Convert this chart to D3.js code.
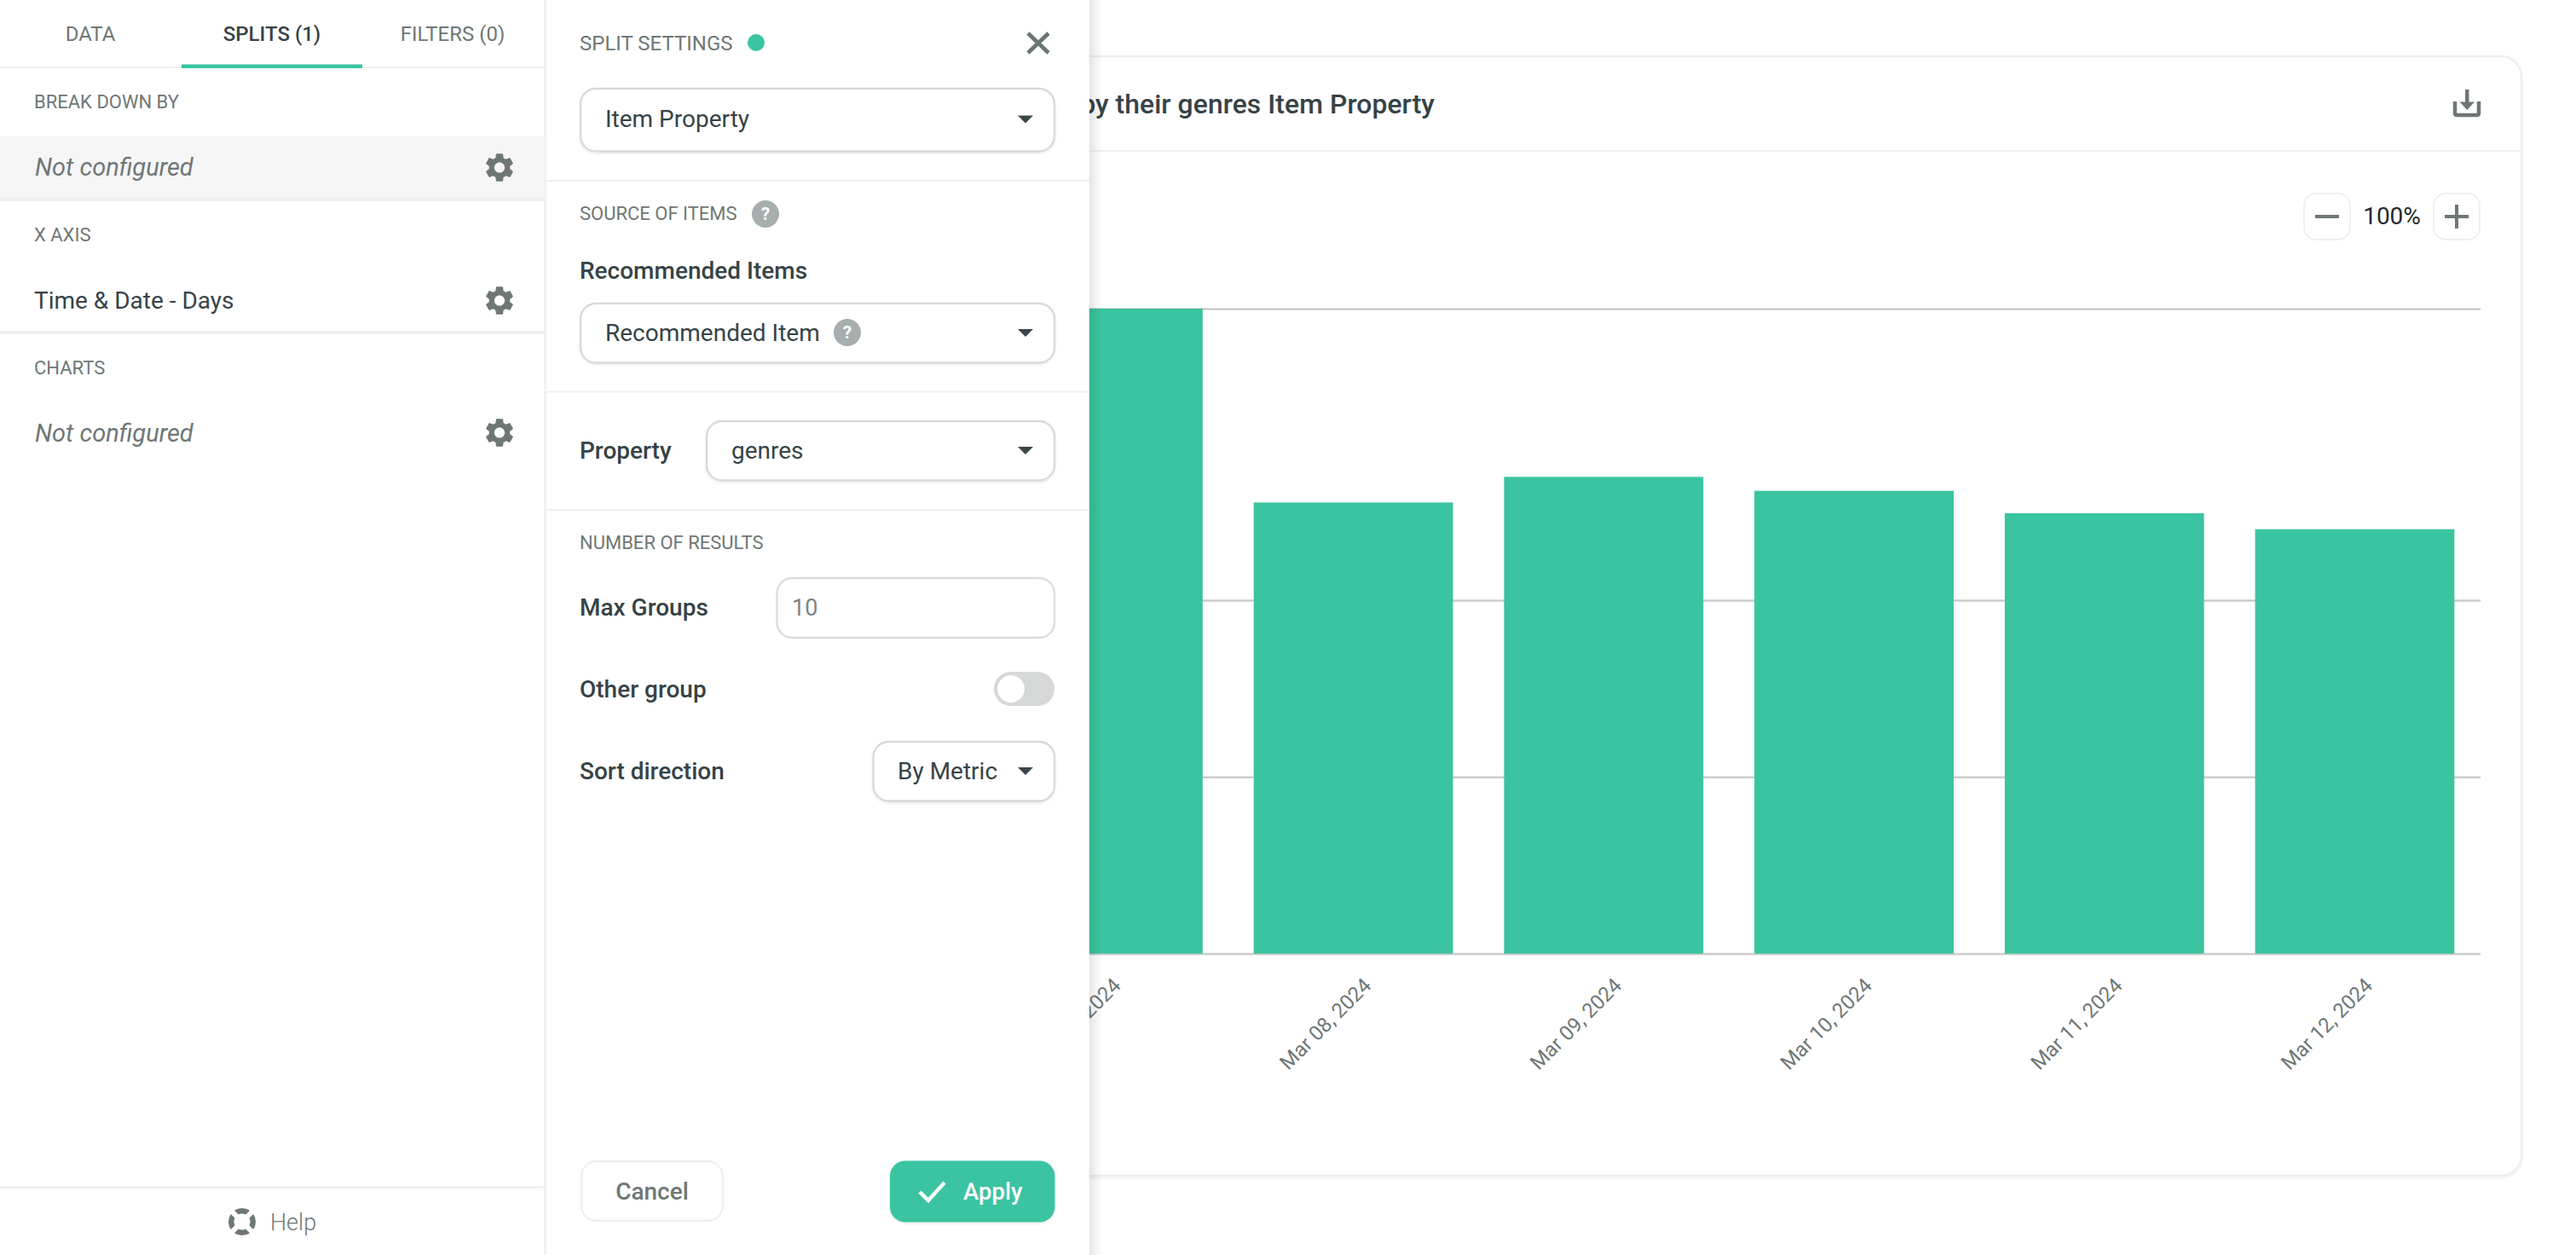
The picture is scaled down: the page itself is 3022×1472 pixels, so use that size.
<!DOCTYPE html>
<html><head><meta charset="utf-8">
<style>html,body{margin:0;padding:0;background:#fff;overflow:hidden}svg{display:block}text{font-family:Roboto,sans-serif}</style>
<script src="https://cdn.jsdelivr.net/npm/d3@7/dist/d3.min.js"></script>
</head><body><svg id="c" width="3022" height="1472"></svg>
<script>
const categories=["Mar 07, 2024","Mar 08, 2024","Mar 09, 2024","Mar 10, 2024","Mar 11, 2024","Mar 12, 2024"];
const seriesValues=[3650,2553,2698,2619,2492,2402];
const yTicks=[0,1000,2000,3650];
const tabLabels=["DATA","SPLITS (1)","FILTERS (0)"];

const TEAL="#3bc4a1",DARK="#364346",GREY="#6f7776",LINE="#f0f0f0";
const svg=d3.select("#c");
const defs=svg.append("defs");
const sh=defs.append("linearGradient").attr("id","panelShadow");
sh.append("stop").attr("offset","0").attr("stop-color","#000").attr("stop-opacity",.10);
sh.append("stop").attr("offset","1").attr("stop-color","#000").attr("stop-opacity",0);
const bs=defs.append("filter").attr("id","soft").attr("x","-20%").attr("y","-20%").attr("width","140%").attr("height","140%");
bs.append("feDropShadow").attr("dx",0).attr("dy",1.5).attr("stdDeviation",1.5).attr("flood-color","#000").attr("flood-opacity",.08);

function T(g,x,cy,s,o={}){const size=o.size||28;
  return g.append("text").attr("x",x).attr("y",cy+size*.355).text(s)
   .attr("font-size",size).attr("font-weight",o.weight||400).attr("fill",o.fill||DARK)
   .attr("text-anchor",o.anchor||"start").attr("font-style",o.style||"normal");}
function R(g,x,y,w,h,o={}){return g.append("rect").attr("x",x).attr("y",y).attr("width",w).attr("height",h)
   .attr("rx",o.r||0).attr("fill",o.fill||"#fff").attr("stroke",o.stroke||"none").attr("stroke-width",o.sw||0).attr("filter",o.filter||null);}

/* ---------- chart card ---------- */
const card=svg.append("g");
R(card,900,66,2058,1313,{r:24,stroke:"#efefef",sw:2.5,filter:"url(#soft)"});
card.append("line").attr("x1",900).attr("x2",2958).attr("y1",177).attr("y2",177).attr("stroke",LINE).attr("stroke-width",2);
T(card,1683,121.5,"by their genres Item Property",{size:32,weight:500,anchor:"end",fill:"#364346"});

const x=d3.scaleBand().domain(categories).range([1146.4,2910]).paddingInner(.204).paddingOuter(.1045);
const y=d3.scaleLinear().domain([0,3650]).range([1118.5,362]);
const grid=d3.axisLeft(y).tickValues(yTicks).tickSize(-(2910-1146)).tickFormat("");
const gg=card.append("g").attr("transform","translate(1146,0)").call(grid);
gg.select(".domain").remove();
gg.selectAll(".tick line").attr("stroke","#cccccc").attr("stroke-width",2.4);

card.append("g").selectAll("rect").data(categories).join("rect")
  .attr("x",d=>x(d)).attr("width",x.bandwidth())
  .attr("y",(d,i)=>y(seriesValues[i])).attr("height",(d,i)=>y(0)-y(seriesValues[i]))
  .attr("fill",TEAL);

const ax=d3.axisBottom(x).tickSize(0);
const ag=card.append("g").attr("transform","translate(0,1118)").call(ax);
ag.select(".domain").remove();
ag.selectAll("text").attr("font-size",24).attr("fill",GREY)
  .attr("text-anchor","end").attr("transform","translate(17,34) rotate(-45)").attr("dy",".32em").attr("y",0);

/* zoom controls + download */
R(card,2703,227,54,54,{r:14,stroke:LINE,sw:2});
R(card,2855,227,54,54,{r:14,stroke:LINE,sw:2});
R(card,2716,252,28,4,{fill:"#6f7776"});
R(card,2868,252,28,4,{fill:"#6f7776"});
R(card,2880,240,4,28,{fill:"#6f7776"});
T(card,2806,253.5,"100%",{size:28,anchor:"middle",fill:"#25292b"});
card.append("path").attr("d","M2880 119v13.5q0 2.5 2.5 2.5h23q2.5 0 2.5-2.5V119").attr("fill","none").attr("stroke","#6f7776").attr("stroke-width",4.5);
card.append("path").attr("d","M2892 105h4.5v14.5h6.5l-8.7 9.5-8.8-9.5h6.5z").attr("fill","#6f7776");

/* ---------- settings panel (right) ---------- */
const p2=svg.append("g");
R(p2,1278,0,15,1472,{fill:"url(#panelShadow)"});
R(p2,640,0,638,1472);
const hr=(g,x1,x2,yy,c,w)=>g.append("line").attr("x1",x1).attr("x2",x2).attr("y1",yy).attr("y2",yy).attr("stroke",c||LINE).attr("stroke-width",w||2.2);
const caret=(g,cx,cy)=>g.append("path").attr("d",`M${cx-9} ${cy-4}h18l-9 9z`).attr("fill","#3a4548");
const help=(g,cx,cy)=>{g.append("circle").attr("cx",cx).attr("cy",cy).attr("r",16).attr("fill","#a6aeae");
   T(g,cx,cy,"?",{size:21,weight:700,fill:"#fff",anchor:"middle"});};
function sel(g,x1,x2,y1,y2,s,tx,cy){R(g,x1,y1,x2-x1,y2-y1,{r:18,stroke:"#d9d9d9",sw:2.4,filter:"url(#soft)"});
   T(g,tx,cy,s);caret(g,1203,cy);}
const head={size:22,fill:GREY,weight:400};
T(p2,680,50,"SPLIT SETTINGS",{size:24,fill:GREY,weight:400});
p2.append("circle").attr("cx",887).attr("cy",50).attr("r",10).attr("fill",TEAL);
p2.append("path").attr("d","M1206 39l24 23M1230 39l-24 23").attr("stroke","#6b7373").attr("stroke-width",4.6).attr("fill","none");
sel(p2,681,1237,104,177.5,"Item Property",710,139.5);
hr(p2,640,1278,212);
T(p2,680,250,"SOURCE OF ITEMS",head);
help(p2,898,251);
T(p2,680,317,"Recommended Items",{weight:500});
sel(p2,681,1237,356,425.5,"Recommended Item",710,390);
help(p2,994,390);
hr(p2,640,1278,459.5);
T(p2,680,528,"Property",{weight:500});
sel(p2,829,1237,494,563.5,"genres",858,528);
hr(p2,640,1278,598);
T(p2,680,636,"NUMBER OF RESULTS",head);
T(p2,680,712,"Max Groups",{weight:500});
R(p2,911.5,678,325.5,70,{r:18,stroke:"#dcdcdc",sw:2.4});
T(p2,929,712,"10",{size:27,fill:"#7d8584"});
T(p2,680,808.5,"Other group",{weight:500});
R(p2,1166,788,71,40,{r:20,fill:"#d6d8d7"});
p2.append("circle").attr("cx",1186).attr("cy",808).attr("r",16).attr("fill","#fff");
T(p2,680,904,"Sort direction",{weight:500});
sel(p2,1024.5,1237,870,939.5,"By Metric",1053,904);
R(p2,682,1362,166,70,{r:18,stroke:LINE,sw:2.4});
T(p2,765,1397,"Cancel",{weight:500,fill:GREY,anchor:"middle"});
R(p2,1044,1361.5,193.5,72,{r:18,fill:TEAL,filter:"url(#soft)"});
p2.append("path").attr("d","M1079 1398l10 10 19-21").attr("stroke","#fff").attr("stroke-width",4.4).attr("fill","none");
T(p2,1130,1397.5,"Apply",{size:27.5,weight:500,fill:"#fff"});

/* ---------- left nav panel ---------- */
const p1=svg.append("g");
R(p1,0,0,640,1472);
hr(p1,0,639,79);
p1.append("line").attr("x1",639.5).attr("x2",639.5).attr("y1",0).attr("y2",1472).attr("stroke",LINE).attr("stroke-width",2.4);
p1.selectAll("text.tab").data(tabLabels).join("text").attr("class","tab")
  .attr("x",(d,i)=>[106,319,531][i]).attr("y",39+24*.355).attr("text-anchor","middle").attr("font-size",24)
  .attr("font-weight",(d,i)=>i==1?500:400).attr("fill",(d,i)=>i==1?DARK:GREY).text(d=>d);
R(p1,213,75.5,212,4.5,{fill:TEAL});
const gearD="M19.14 12.94c.04-.3.06-.61.06-.94 0-.32-.02-.64-.07-.94l2.03-1.58c.18-.14.23-.41.12-.61l-1.92-3.32c-.12-.22-.37-.29-.59-.22l-2.39.96c-.5-.38-1.03-.7-1.62-.94l-.36-2.54c-.04-.24-.24-.41-.48-.41h-3.84c-.24 0-.43.17-.47.41l-.36 2.54c-.59.24-1.13.57-1.62.94l-2.39-.96c-.22-.08-.47 0-.59.22L2.74 8.87c-.12.21-.08.47.12.61l2.03 1.58c-.05.3-.09.63-.09.94s.02.64.07.94l-2.03 1.58c-.18.14-.23.41-.12.61l1.92 3.32c.12.22.37.29.59.22l2.39-.96c.5.38 1.03.7 1.62.94l.36 2.54c.05.24.24.41.48.41h3.84c.24 0 .44-.17.47-.41l.36-2.54c.59-.24 1.13-.56 1.62-.94l2.39.96c.22.08.47 0 .59-.22l1.92-3.32c.12-.22.07-.47-.12-.61l-2.01-1.58zM12 15.6c-1.98 0-3.6-1.62-3.6-3.6s1.62-3.6 3.6-3.6 3.6 1.62 3.6 3.6-1.62 3.6-3.6 3.6z";
const gear=(cy)=>p1.append("path").attr("d",gearD).attr("fill",GREY).attr("fill-rule","evenodd")
   .attr("transform",`translate(${586-12*1.7},${cy-12*1.7}) scale(1.7)`);
T(p1,40,119,"BREAK DOWN BY",head);
R(p1,0,160,638,72,{fill:"#f6f6f6"});
hr(p1,0,638,234,"#efefef",4);
const notConf={size:29,weight:400,style:"italic",fill:GREY};
T(p1,41,195.5,"Not configured",notConf);gear(196.5);
T(p1,40,275,"X AXIS",head);
T(p1,40,352.5,"Time & Date - Days");gear(352.5);
hr(p1,0,638,390,"#efefef",4);
T(p1,40,431,"CHARTS",head);
T(p1,41,507.5,"Not configured",notConf);gear(507.5);
hr(p1,0,638,1392.5,LINE,2.4);
const ring=d3.arc().innerRadius(9.5).outerRadius(16).padAngle(.32);
p1.append("g").attr("transform","translate(284,1433)").selectAll("path").data([0,1,2,3]).join("path")
  .attr("d",i=>ring({startAngle:(i-.5)*Math.PI/2,endAngle:(i+.5)*Math.PI/2})).attr("fill",GREY);
T(p1,317,1433,"Help",{size:27,weight:300,fill:GREY});
</script></body></html>
